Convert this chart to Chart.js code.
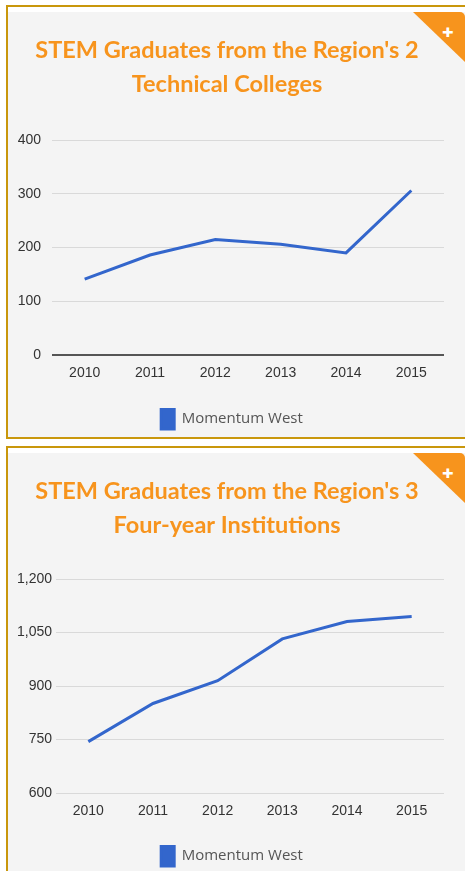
<!DOCTYPE html>
<html>
<head>
<meta charset="utf-8">
<script src="https://cdn.jsdelivr.net/npm/chart.js@4.4.0/dist/chart.umd.min.js"></script>
<style>
  html, body { margin: 0; padding: 0; background: #fff; }
  body { width: 465px; height: 871px; overflow: hidden; position: relative; }
  .panel {
    position: absolute; left: 6px; width: 480px;
    border: 2px solid #c9970c; border-right: none;
    padding-top: 5px; background: #fff;
  }
  .inner { position: relative; background: #f4f4f4; height: 425px; }
  .inner canvas { position: absolute; left: 0; top: 0; }
  .corner {
    position: absolute; left: 405px; top: 0; width: 52px; height: 50px;
    background: #f7941d; border-top-right-radius: 5px;
    clip-path: polygon(0 0, 100% 0, 100% 100%);
    color: #fff; font: 900 20px "Open Sans", sans-serif;
  }
  .corner span { position: absolute; left: 29px; top: 6px; }
</style>
</head>
<body>
<div class="panel" style="top:5px;">
  <div class="inner">
    <canvas id="chart1" width="440" height="425"></canvas>
    <div class="corner"><span>+</span></div>
  </div>
</div>
<div class="panel" style="top:446px;">
  <div class="inner">
    <canvas id="chart2" width="440" height="425"></canvas>
    <div class="corner"><span>+</span></div>
  </div>
</div>
<script>
const years = ['2010', '2011', '2012', '2013', '2014', '2015'];
const seriesName = 'Momentum West';

const technicalTitle = ["STEM Graduates from the Region's 2", 'Technical Colleges'];
const technicalGrads = [141, 186, 215, 206, 190, 306];
const technicalTicks = [0, 100, 200, 300, 400];

const fourYearTitle = ["STEM Graduates from the Region's 3", 'Four-year Institutions'];
const fourYearGrads = [744, 851, 915, 1032, 1081, 1095];
const fourYearTicks = [600, 750, 900, 1050, 1200];

// legend sits a little right of centre in the original
const legendShift = {
  id: 'legendShift',
  afterLayout(chart) {
    chart.legend.left += 5;
    chart.legend.right += 5;
  }
};

function makeChart(canvas, title, values, ticks, opt) {
  return new Chart(canvas, {
    type: 'line',
    data: {
      labels: years,
      datasets: [{
        label: seriesName,
        data: values,
        borderColor: '#3366cc',
        backgroundColor: '#3366cc',
        borderWidth: 3,
        pointRadius: 0,
        tension: 0
      }]
    },
    plugins: [legendShift],
    options: {
      responsive: false,
      animation: false,
      layout: { padding: { left: 2, right: 4, top: 0, bottom: opt.padBottom } },
      plugins: {
        title: {
          display: true,
          text: title,
          color: '#f7941d',
          font: { family: 'Lato', weight: 'bold', size: 23.5, lineHeight: '34px' },
          padding: { top: 21, bottom: opt.titleGap }
        },
        legend: {
          position: 'bottom',
          labels: {
            boxWidth: 13,
            boxHeight: 21,
            padding: 0,
            color: '#555',
            font: { family: 'Open Sans', size: 15 }
          }
        },
        tooltip: { enabled: false }
      },
      scales: {
        x: {
          offset: true,
          grid: { display: false },
          border: { display: false },
          ticks: { color: '#333', padding: opt.xPad, font: { family: 'Liberation Sans', size: 14 } },
          afterFit: (s) => { s.height = opt.xHeight; }
        },
        y: {
          min: ticks[0],
          max: ticks[ticks.length - 1],
          afterBuildTicks: (s) => { s.ticks = ticks.map(v => ({ value: v })); },
          border: { display: false },
          grid: {
            drawTicks: false,
            color: (c) => (c.tick && c.tick.value === 0 ? '#555' : '#d9d9d9'),
            lineWidth: (c) => (c.tick && c.tick.value === 0 ? 2 : 1)
          },
          ticks: {
            color: '#333',
            padding: opt.yPad,
            font: { family: 'Liberation Sans', size: 14 },
            callback: (v) => Number(v).toLocaleString('en-US')
          },
          afterFit: (s) => { s.width = opt.yWidth; }
        }
      }
    }
  });
}

makeChart(document.getElementById('chart1'), technicalTitle, technicalGrads, technicalTicks,
  { padBottom: -2, titleGap: 39, xPad: 2, xHeight: 53, yPad: 11, yWidth: 42 });
makeChart(document.getElementById('chart2'), fourYearTitle, fourYearGrads, fourYearTicks,
  { padBottom: 2, titleGap: 37, xPad: 2, xHeight: 52, yPad: 4, yWidth: 46 });
</script>
</body>
</html>
